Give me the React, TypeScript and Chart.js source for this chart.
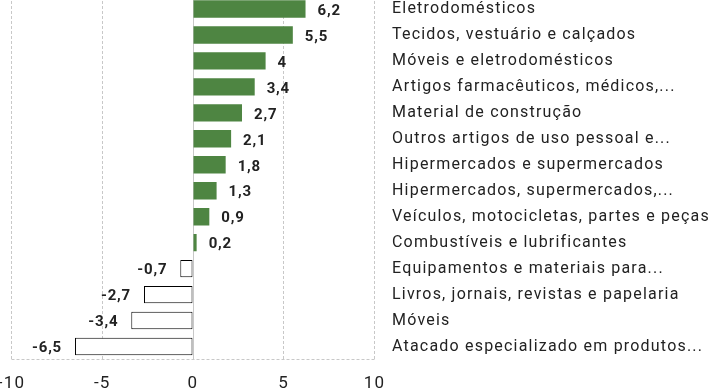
import React, { useEffect, useRef } from "react";
import { Chart, registerables } from "chart.js";

Chart.register(...registerables);

const categories = [
  "Eletrodomésticos",
  "Tecidos, vestuário e calçados",
  "Móveis e eletrodomésticos",
  "Artigos farmacêuticos, médicos,...",
  "Material de construção",
  "Outros artigos de uso pessoal e...",
  "Hipermercados e supermercados",
  "Hipermercados, supermercados,...",
  "Veículos, motocicletas, partes e peças",
  "Combustíveis e lubrificantes",
  "Equipamentos e materiais para...",
  "Livros, jornais, revistas e papelaria",
  "Móveis",
  "Atacado especializado em produtos...",
];

const values = [6.2, 5.5, 4, 3.4, 2.7, 2.1, 1.8, 1.3, 0.9, 0.2, -0.7, -2.7, -3.4, -6.5];

const xTicks = [-10, -5, 0, 5, 10];

const FONT = "Roboto";
const GREEN = "#4e8542";
const GRID = "#c8c8c8";
const SPACING = "1.2px";

const fmt = (v: number) => String(v).replace(".", ",");

const spacing = {
  id: "spacing",
  beforeLayout(chart: any) {
    chart.ctx.letterSpacing = SPACING;
  },
  beforeDraw(chart: any) {
    chart.ctx.letterSpacing = SPACING;
  },
};

const valueLabels = {
  id: "valueLabels",
  afterDatasetsDraw(chart: any) {
    const ctx = chart.ctx;
    const meta = chart.getDatasetMeta(0);
    ctx.save();
    ctx.letterSpacing = "0.8px";
    ctx.font = `bold 15px ${FONT}`;
    ctx.fillStyle = "#222";
    ctx.textBaseline = "middle";
    meta.data.forEach((bar: any, i: number) => {
      const v = values[i];
      if (v >= 0) {
        ctx.textAlign = "left";
        ctx.fillText(fmt(v), bar.x + 12, bar.y + 2);
      } else {
        ctx.textAlign = "right";
        ctx.fillText(fmt(v), bar.x - 13, bar.y + 2);
      }
    });
    ctx.restore();
  },
};

const bottomLine = {
  id: "bottomLine",
  beforeDatasetsDraw(chart: any) {
    const { ctx, chartArea } = chart;
    ctx.save();
    ctx.strokeStyle = GRID;
    ctx.lineWidth = 1;
    ctx.setLineDash([3, 2]);
    ctx.beginPath();
    ctx.moveTo(chartArea.left, Math.round(chartArea.bottom) - 0.5);
    ctx.lineTo(chartArea.right, Math.round(chartArea.bottom) - 0.5);
    ctx.stroke();
    ctx.restore();
  },
};

export default function App() {
  const ref = useRef<HTMLCanvasElement | null>(null);
  useEffect(() => {
    if (!ref.current) return;
    const chart = new Chart(ref.current, {
      type: "bar",
      data: {
        labels: categories,
        datasets: [
          {
            data: values,
            backgroundColor: values.map((v) => (v >= 0 ? GREEN : "#ffffff")),
            borderColor: values.map((v) => (v >= 0 ? GREEN : "#000000")),
            borderWidth: values.map((v) => (v >= 0 ? 0 : 1)),
            borderSkipped: false,
            categoryPercentage: 1,
            barPercentage: 0.67,
          },
        ],
      },
      options: {
        indexAxis: "y",
        animation: false,
        responsive: true,
        maintainAspectRatio: false,
        layout: { padding: { top: 0, bottom: 0, left: 0, right: 0 } },
        plugins: {
          legend: { display: false },
          tooltip: { enabled: false },
        },
        scales: {
          x: {
            min: -10,
            max: 10,
            afterBuildTicks: (axis: any) => {
              axis.ticks = xTicks.map((v) => ({ value: v }));
            },
            afterFit: (scale: any) => {
              scale.paddingLeft = 11.5;
              scale.paddingRight = 0;
              scale.height = 30.5;
            },
            ticks: {
              font: { family: FONT, size: 17 },
              color: "#222",
              padding: 14,
              maxRotation: 0,
            },
            grid: {
              drawTicks: false,
              color: GRID,
              lineWidth: 1,
            },
            border: {
              display: false,
              dash: (ctx: any) => (ctx.tick && ctx.tick.value === 0 ? [] : [3, 2]),
            },
          },
          y: {
            position: "right",
            afterFit: (scale: any) => {
              scale.width = 336.5;
              scale.paddingTop = 0;
              scale.paddingBottom = 0;
            },
            ticks: {
              font: { family: FONT, size: 16 },
              color: "#222",
              padding: 17.5,
              crossAlign: "near",
            },
            grid: { display: false, drawTicks: false },
            border: { display: false },
          },
        },
      },
      plugins: [spacing, bottomLine, valueLabels],
    });
    return () => chart.destroy();
  }, []);
  return (
    <div style={{ position: "absolute", left: 0, top: -4, width: 711, height: 394 }}>
      <canvas ref={ref} />
    </div>
  );
}
